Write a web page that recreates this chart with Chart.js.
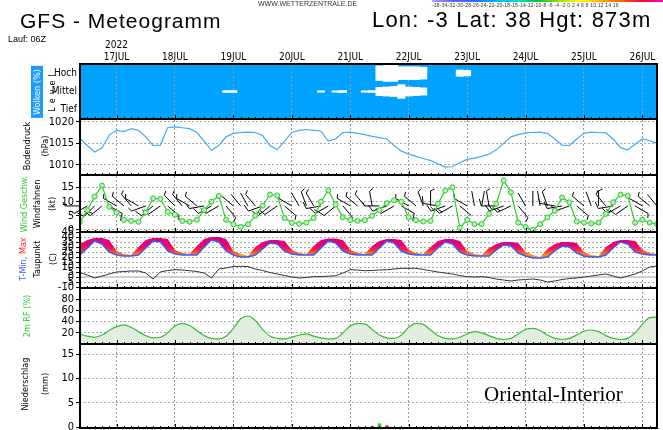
<!DOCTYPE html>
<html>
<head>
<meta charset="utf-8">
<script src="https://cdn.jsdelivr.net/npm/chart.js"></script>
<style>
html, body { margin: 0; padding: 0; background: #fff; width: 663px; height: 430px; overflow: hidden; }
#wrap { position: relative; width: 663px; height: 430px; overflow: hidden; }
#c { position: absolute; left: 0; top: 0; }
.t { position: absolute; white-space: nowrap; font-family: 'Liberation Sans', Arial, sans-serif; color: #000; z-index: 2; line-height: 1; }
.r { position: absolute; white-space: nowrap; transform: translate(-50%, -50%) rotate(-90deg); font-family: 'Liberation Sans Narrow', 'DejaVu Sans Condensed', sans-serif; font-size: 9px; line-height: 10px; color: #000; z-index: 2; }
#scalebar { position: absolute; left: 432px; top: 0; width: 231px; height: 2px; background: linear-gradient(to right, #b0a0ff, #6a5cff, #2070ff, #00b0ff, #00e0d0, #00c040, #90e000, #ffff00, #ffb000, #ff6000, #ff0040, #ff00c0); }
</style>
</head>
<body>
<div id="wrap">
  <canvas id="c" width="663" height="438"></canvas>

  <div class="t" style="left:258px;top:0px;font-size:7px;color:#333">WWW.WETTERZENTRALE.DE</div>
  <div id="scalebar"></div>
  <div class="t" style="left:432px;top:3px;font-size:5px;color:#333;letter-spacing:0.2px">-38-34-32-30-28-26-24-22-20-18-16-14-12-10-8 -6 -4 -2 0 2 4 6 8 10 12 14 16</div>
  <div class="t" style="left:20px;top:10px;font-size:21px;letter-spacing:1px">GFS - Meteogramm</div>
  <div class="t" style="left:372px;top:9px;font-size:22px;letter-spacing:1.2px">Lon: -3 Lat: 38 Hgt: 873m</div>
  <div class="t" style="left:8px;top:35px;font-size:9px">Lauf: 06Z</div>

  <div class="r" style="left:37px;top:92px;background:#1a9cff;color:#fff;padding:1px 3px">Wolken (%)</div>
  <div class="r" style="left:52px;top:91px;letter-spacing:4px">Level</div>

  <div class="r" style="left:27px;top:146px">Bodendruck</div>
  <div class="r" style="left:45px;top:146px">(hPa)</div>

  <div class="r" style="left:24px;top:204px;color:#2ec82e">Wind Geschw.</div>
  <div class="r" style="left:37px;top:204px">Windfahnen</div>
  <div class="r" style="left:52px;top:204px">(kt)</div>

  <div class="r" style="left:23px;top:259px"><span style="color:#3c5aff">T-Min,</span> <span style="color:#ff2a2a">Max</span></div>
  <div class="r" style="left:37px;top:259px">Taupunkt</div>
  <div class="r" style="left:53px;top:259px">(C)</div>

  <div class="r" style="left:27px;top:316px;color:#2ec82e">2m RF (%)</div>

  <div class="r" style="left:25px;top:384px">Niederschlag</div>
  <div class="r" style="left:45px;top:384px">(mm)</div>

  <div class="t" style="left:484px;top:384px;font-size:21px;font-family:'Liberation Serif','Times New Roman',serif">Oriental-Interior</div>
</div>

<script>
// hours after 17 JUL 00Z, 3-hourly steps of the 06Z run
const times = [-15, -12, -9, -6, -3, 0, 3, 6, 9, 12, 15, 18, 21, 24, 27, 30, 33, 36, 39, 42,
  45, 48, 51, 54, 57, 60, 63, 66, 69, 72, 75, 78, 81, 84, 87, 90, 93, 96, 99, 102,
  105, 108, 111, 114, 117, 120, 123, 126, 129, 132, 135, 138, 141, 144, 147, 150, 153, 156, 159, 162,
  165, 168, 171, 174, 177, 180, 183, 186, 189, 192, 195, 198, 201, 204, 207, 210, 213, 216, 219, 222];

const dayTicks = [0, 24, 48, 72, 96, 120, 144, 168, 192, 216];
const dayLabels = ['17JUL', '18JUL', '19JUL', '20JUL', '21JUL', '22JUL', '23JUL', '24JUL', '25JUL', '26JUL'];
const yearLabel = '2022';

// cloud cover (%) per level
const cloudHigh = [0, 0, 0, 0, 0, 0, 0, 0, 0, 0, 0, 0, 0, 0, 0, 0, 0, 0, 0, 0,
  0, 0, 0, 0, 0, 0, 0, 0, 0, 0, 0, 0, 0, 0, 0, 0, 0, 0, 0, 0,
  0, 80, 90, 90, 70, 70, 70, 65, 0, 0, 0, 0, 35, 30, 0, 0, 0, 0, 0, 0,
  0, 0, 0, 0, 0, 0, 0, 0, 0, 0, 0, 0, 0, 0, 0, 0, 0, 0, 0, 0];
const cloudMid = [0, 0, 0, 0, 0, 0, 0, 0, 0, 0, 0, 0, 0, 0, 0, 0, 0, 0, 0, 0,
  10, 10, 0, 0, 0, 0, 0, 0, 0, 0, 0, 0, 0, 8, 0, 8, 12, 0, 0, 8,
  10, 45, 50, 55, 75, 50, 45, 40, 0, 0, 0, 0, 0, 0, 0, 0, 0, 0, 0, 0,
  0, 0, 0, 0, 0, 0, 0, 0, 0, 0, 0, 0, 0, 0, 0, 0, 0, 0, 0, 0];
const cloudLow = [0, 0, 0, 0, 0, 0, 0, 0, 0, 0, 0, 0, 0, 0, 0, 0, 0, 0, 0, 0,
  0, 0, 0, 0, 0, 0, 0, 0, 0, 0, 0, 0, 0, 0, 0, 0, 0, 0, 0, 0,
  0, 0, 0, 0, 0, 0, 0, 0, 0, 0, 0, 0, 0, 0, 0, 0, 0, 0, 0, 0,
  0, 0, 0, 0, 0, 0, 0, 0, 0, 0, 0, 0, 0, 0, 0, 0, 0, 0, 0, 0];
const cloudLevelNames = ['Tief', 'Mittel', 'Hoch'];
const cloudLevelValues = [0.5, 1.5, 2.5];

// surface pressure (hPa)
const pressure = [1016.1, 1014.5, 1013.0, 1013.9, 1016.9, 1018.0, 1017.7, 1018.4,
  1018.0, 1016.5, 1014.5, 1014.6, 1018.6, 1018.8, 1018.6, 1018.4,
  1017.5, 1015.5, 1013.4, 1014.5, 1016.5, 1017.3, 1017.5, 1017.6,
  1017.5, 1016.8, 1014.5, 1013.5, 1015.5, 1017.5, 1018.0, 1018.2,
  1018.0, 1017.8, 1015.5, 1016.0, 1017.5, 1017.6, 1017.3, 1017.0,
  1016.6, 1016.3, 1016.0, 1014.5, 1013.2, 1012.5, 1012.0, 1011.5,
  1011.0, 1010.3, 1009.5, 1009.6, 1010.5, 1011.3, 1011.6, 1012.0,
  1012.5, 1013.5, 1015.0, 1016.5, 1017.0, 1017.4, 1017.5, 1017.6,
  1017.3, 1016.0, 1014.6, 1014.5, 1016.0, 1017.3, 1017.6, 1017.5,
  1017.4, 1016.0, 1014.0, 1013.5, 1014.8, 1016.0, 1015.6, 1015.0];
const pressureTicks = [1010, 1015, 1020];

// wind speed (kt) and direction (deg, from)
const wind = [2.9, 7, 11.8, 15.7, 8.2, 6.2, 3.6, 3.2,
  2.9, 6.2, 11.2, 11, 6.4, 5.4, 3.2, 2.9,
  3.6, 7, 10, 12, 3.6, 2, 1.1, 2,
  5, 8.6, 12.5, 12.2, 4.2, 2.6, 2.2, 2.6,
  4.2, 10, 14, 9, 4.5, 3.5, 3.2, 3.5,
  5, 7, 9.5, 10.5, 10, 4.5, 3.5, 3,
  3.2, 9.3, 13.9, 15.1, 0.8, 3.6, 2.1, 2.1,
  5.7, 9.3, 17.5, 13.3, 2.6, 1.1, 0, 2.1,
  4.4, 6.8, 11.5, 9.8, 3, 2.6, 2.3, 2.6,
  5.7, 9.8, 12.5, 12.1, 2.6, 3.6, 2.6, 2.1];
const windDir = [270, 240, 225, 230, 120, 300, 310, 320,
  300, 250, 230, 235, 130, 315, 320, 300,
  310, 260, 240, 240, 140, 310, 320, 330,
  320, 250, 230, 235, 130, 300, 330, 340,
  330, 260, 240, 230, 140, 300, 310, 320,
  350, 270, 250, 240, 120, 300, 310, 340,
  0, 280, 250, 240, 130, 300, 350, 10,
  350, 270, 250, 245, 140, 330, 0, 350,
  340, 280, 260, 250, 130, 310, 340, 0,
  320, 260, 240, 235, 120, 300, 310, 320];
const windTicks = [0, 5, 10, 15];
const barbLevel = 8.5;

// temperature (C): 6-hourly min / max band and dew point
const tMin = [22, 29, 36, 33, 25, 22, 21, 21,
  22, 29, 36, 35, 26, 23, 22, 22,
  22, 30, 37, 35, 26, 22, 20, 20,
  22, 28, 34, 33, 26, 23, 22, 22,
  22, 29, 36, 34, 26, 23, 22, 22,
  22, 29, 36, 34, 26, 23, 22, 22,
  22, 29, 35, 33, 25, 22, 21, 21,
  21, 27, 32, 31, 24, 21, 19, 19,
  20, 26, 31, 30, 24, 21, 20, 20,
  22, 29, 35, 33, 25, 23, 22, 22];
const tMax = [33, 37, 39, 39, 37, 26, 23, 22,
  30, 37, 39, 39, 38, 27, 24, 23,
  31, 38, 40, 40, 38, 26, 23, 21,
  30, 35, 37, 37, 36, 27, 24, 23,
  31, 37, 38.5, 38.5, 37, 27, 24, 23,
  31, 36, 38, 38, 37, 27, 24, 23,
  30, 36, 38, 38, 36, 26, 23, 22,
  29, 33, 35, 35, 34, 25, 22, 20,
  28, 33, 35, 35, 34, 25, 22, 21,
  30, 35, 37, 37, 36, 27, 24, 23];
const dewPoint = [4.5, 2, -1, 1, 3, 5, 5.5, 6,
  6, 4, -2, 5, 6.5, 7.3, 7, 6.3,
  5.5, 4, -1, 8, 9, 10.5, 10.7, 10.5,
  8, 6.5, 4.5, 3, 1.5, 0, -1, -0.5,
  0.3, 0.5, 0.8, 1.3, 4, 7.3, 7, 6.3,
  6.5, 7, 7.3, 8, 8.7, 8.7, 8.7, 7.5,
  6.3, 5, 4, 3, 1.5, 0.3, 0, 0.3,
  -0.5, -2, -3, -4, -3, -2.5, -2, -3,
  -5, -4, -2.5, -1.5, -1, 0, 1, 2,
  3, 1, -1, 1, 3, 6, 10, 11];
const tempTicks = [45, 40, 35, 30, 25, 20, 15, 10, 5, 0, -5, -10];

// 2m relative humidity (%)
const rh = [18, 14, 12, 16, 24, 31, 34, 30,
  22, 15, 11, 12, 20, 32, 37, 33,
  24, 15, 10, 9, 14, 28, 45, 50,
  42, 26, 14, 10, 9, 12, 16, 18,
  14, 11, 9, 10, 20, 32, 37, 36,
  26, 16, 11, 10, 16, 30, 37, 35,
  25, 15, 10, 9, 12, 18, 22, 20,
  15, 10, 8, 10, 18, 26, 28, 24,
  16, 10, 8, 10, 16, 23, 25, 22,
  15, 10, 8, 10, 20, 35, 47, 48];
const rhTicks = [20, 40, 60, 80];

// precipitation (mm)
const precipLarge = [0, 0, 0, 0, 0, 0, 0, 0, 0, 0, 0, 0, 0, 0, 0, 0, 0, 0, 0, 0,
  0, 0, 0, 0, 0, 0, 0, 0, 0, 0, 0, 0, 0, 0, 0, 0, 0, 0, 0, 0,
  0, 0.8, 0, 0, 0, 0, 0, 0, 0, 0, 0, 0, 0, 0, 0, 0, 0, 0, 0, 0,
  0, 0, 0, 0, 0, 0, 0, 0, 0, 0, 0, 0, 0, 0, 0, 0, 0, 0, 0, 0];
const precipConv = [0, 0, 0, 0, 0, 0, 0, 0, 0, 0, 0, 0, 0, 0, 0, 0, 0, 0, 0, 0,
  0, 0, 0, 0, 0, 0, 0, 0, 0, 0, 0, 0, 0, 0, 0, 0, 0, 0, 0, 0,
  0.3, 0, 0.4, 0, 0, 0, 0, 0, 0, 0, 0, 0, 0, 0, 0, 0, 0, 0, 0, 0,
  0, 0, 0, 0, 0, 0, 0, 0, 0, 0, 0, 0, 0, 0, 0, 0, 0, 0, 0, 0];
const precipTicks = [0, 5, 10, 15];

const narrow = "'Liberation Sans Narrow', 'DejaVu Sans Condensed', sans-serif";
const panels = ['yC', 'yP', 'yW', 'yT', 'yR', 'yN'];

const pts = arr => arr.map((v, i) => ({ x: times[i], y: v }));
const cloudBars = (arr, lvl) => arr.map((c, i) => ({ x: times[i], y: c > 0 ? [lvl - c / 200, lvl + c / 200] : null }));

function panelAxis(min, max, tickVals, weight, stackWeight, extra) {
  return Object.assign({
    type: 'linear', position: 'left', stack: 'panels', stackWeight: stackWeight, weight: weight,
    min: min, max: max,
    afterFit: s => { s.width = 80; },
    afterBuildTicks: s => { s.ticks = tickVals.map(v => ({ value: v })); },
    border: { display: false, dash: [2, 2] },
    grid: { color: '#a8a8a8', drawTicks: true, tickLength: 4, tickColor: '#000', tickBorderDash: [] },
    ticks: { autoSkip: false, color: '#000', padding: 2, font: { family: narrow, size: 11 }, callback: v => String(v) }
  }, extra || {});
}

function tempGradient(context) {
  const chart = context.chart;
  const { ctx, chartArea, scales } = chart;
  if (!chartArea || !scales.yT) return 'rgba(0,0,0,0)';
  const s = scales.yT;
  const g = ctx.createLinearGradient(0, s.getPixelForValue(40), 0, s.getPixelForValue(21));
  g.addColorStop(0, '#e0007e');
  g.addColorStop(0.45, '#ea0070');
  g.addColorStop(0.65, '#ff1e3c');
  g.addColorStop(0.82, '#ff5a1e');
  g.addColorStop(1, '#ff9a1e');
  return g;
}

// panel background, 0C line, wind barbs, panel frames
const meteoPlugin = {
  id: 'meteo',
  beforeDraw(chart) {
    const { ctx, chartArea, scales } = chart;
    const c = scales.yC;
    ctx.save();
    ctx.fillStyle = '#00a2ff';
    ctx.fillRect(chartArea.left, c.top, chartArea.right - chartArea.left, c.bottom - c.top);
    ctx.restore();
  },
  beforeDatasetsDraw(chart) {
    const { ctx, chartArea, scales } = chart;
    const x = scales.x, yT = scales.yT, yW = scales.yW;
    ctx.save();
    // 0 degree line
    ctx.strokeStyle = '#cfcfcf';
    ctx.lineWidth = 2;
    const y0 = yT.getPixelForValue(0);
    ctx.beginPath();
    ctx.moveTo(chartArea.left, y0);
    ctx.lineTo(chartArea.right, y0);
    ctx.stroke();

    // wind barbs
    ctx.strokeStyle = '#000';
    ctx.lineWidth = 1;
    const yb = yW.getPixelForValue(barbLevel);
    windDir.forEach((d, i) => {
      const px = x.getPixelForValue(times[i]);
      const a = d * Math.PI / 180;
      const dx = Math.sin(a), dy = -Math.cos(a);
      const L = 15;
      ctx.beginPath();
      ctx.moveTo(px, yb);
      ctx.lineTo(px + dx * L, yb + dy * L);
      let s = Math.round(wind[i] / 5) * 5;
      let pos = L;
      while (s >= 5) {
        const len = s >= 10 ? 7 : 4;
        const bx = px + dx * pos, by = yb + dy * pos;
        ctx.moveTo(bx, by);
        ctx.lineTo(bx - dy * len + dx * 2, by + dx * len + dy * 2);
        s -= s >= 10 ? 10 : 5;
        pos -= 3;
      }
      ctx.stroke();
    });
    ctx.restore();
  },
  afterDraw(chart) {
    const { ctx, chartArea, scales } = chart;
    const x = scales.x;
    ctx.save();
    ctx.strokeStyle = '#000';
    panels.forEach(id => {
      const s = scales[id];
      ctx.lineWidth = 1;
      times.forEach(t => {
        const px = Math.round(x.getPixelForValue(t)) + 0.5;
        const len = dayTicks.includes(t) ? 4 : 2;
        ctx.beginPath();
        ctx.moveTo(px, s.bottom);
        ctx.lineTo(px, s.bottom - len);
        ctx.stroke();
      });
      ctx.lineWidth = 2;
      ctx.strokeRect(chartArea.left, s.top, chartArea.right - chartArea.left, s.bottom - s.top);
    });
    ctx.restore();
  }
};

new Chart(document.getElementById('c').getContext('2d'), {
  type: 'line',
  data: {
    datasets: [
      { type: 'bar', label: 'Hoch', data: cloudBars(cloudHigh, 2.5), yAxisID: 'yC', backgroundColor: '#ffffff', grouped: false, barPercentage: 1, categoryPercentage: 1, borderWidth: 0 },
      { type: 'bar', label: 'Mittel', data: cloudBars(cloudMid, 1.5), yAxisID: 'yC', backgroundColor: '#ffffff', grouped: false, barPercentage: 1, categoryPercentage: 1, borderWidth: 0 },
      { type: 'bar', label: 'Tief', data: cloudBars(cloudLow, 0.5), yAxisID: 'yC', backgroundColor: '#ffffff', grouped: false, barPercentage: 1, categoryPercentage: 1, borderWidth: 0 },
      { label: 'Bodendruck', data: pts(pressure), yAxisID: 'yP', borderColor: '#44aaff', borderWidth: 1.2, pointRadius: 0, tension: 0 },
      { label: 'Wind Geschw.', data: pts(wind), yAxisID: 'yW', borderColor: '#33c833', borderWidth: 1.2, pointRadius: 2.5, pointBorderWidth: 1, pointBorderColor: '#33c833', pointBackgroundColor: '#b6f0b6', tension: 0 },
      { label: 'T-Min', data: pts(tMin), yAxisID: 'yT', borderColor: '#3c5aff', borderWidth: 1.5, pointRadius: 0, tension: 0 },
      { label: 'Max', data: pts(tMax), yAxisID: 'yT', borderWidth: 0, pointRadius: 0, tension: 0, fill: '-1', backgroundColor: tempGradient },
      { label: 'Taupunkt', data: pts(dewPoint), yAxisID: 'yT', borderColor: '#333333', borderWidth: 1, pointRadius: 0, tension: 0 },
      { label: '2m RF', data: pts(rh), yAxisID: 'yR', borderColor: '#3cb93c', borderWidth: 1.2, pointRadius: 0, cubicInterpolationMode: 'monotone', fill: 'start', backgroundColor: '#e2ede0' },
      { type: 'bar', label: 'Niederschlag', data: pts(precipLarge), yAxisID: 'yN', backgroundColor: '#33cc33', grouped: false, barPercentage: 0.5, categoryPercentage: 1, borderWidth: 0 },
      { type: 'bar', label: 'Konvektiv', data: pts(precipConv), yAxisID: 'yN', backgroundColor: '#ff3030', grouped: false, barPercentage: 0.5, categoryPercentage: 1, borderWidth: 0 }
    ]
  },
  options: {
    responsive: false,
    animation: false,
    events: [],
    layout: { padding: { top: 40, left: 0, right: 6, bottom: 10 } },
    plugins: { legend: { display: false }, tooltip: { enabled: false } },
    scales: {
      x: {
        type: 'linear', position: 'top', min: -15, max: 222, offset: false,
        afterFit: s => { s.height = 24; },
        afterBuildTicks: s => { s.ticks = dayTicks.map(v => ({ value: v })); },
        border: { display: false, dash: [2, 2] },
        grid: { color: '#999999', drawTicks: false, offset: false },
        ticks: {
          autoSkip: false, maxRotation: 0, padding: 1, color: '#000',
          font: { family: narrow, size: 10 },
          callback: (v, i) => i === 0 ? [yearLabel, dayLabels[0]] : dayLabels[i]
        }
      },
      yC: panelAxis(0, 3, cloudLevelValues, 6, 55, {
        grid: { display: false, drawTicks: false },
        ticks: { autoSkip: false, color: '#000', padding: 3, font: { family: narrow, size: 10 }, callback: (v, i) => cloudLevelNames[i] }
      }),
      yP: panelAxis(1007.69, 1020.62, pressureTicks, 5, 56),
      yW: panelAxis(-0.71, 19.43, windTicks, 4, 57),
      yT: panelAxis(-11, 45, tempTicks, 3, 56),
      yR: panelAxis(0, 100, rhTicks, 2, 56),
      yN: panelAxis(-0.14, 17.07, precipTicks, 1, 84)
    }
  },
  plugins: [meteoPlugin]
});
</script>
</body>
</html>
